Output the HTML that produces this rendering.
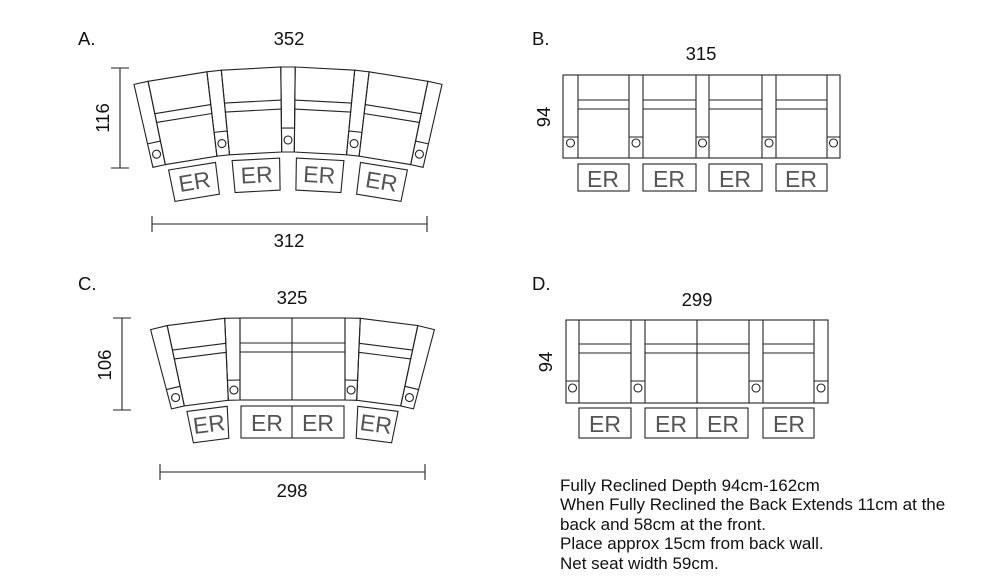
<!DOCTYPE html>
<html><head><meta charset="utf-8">
<style>
html,body{margin:0;padding:0;background:#fff;}
svg{display:block;}
text{font-family:"Liberation Sans",Arial,sans-serif;}
.t{font-size:17px;fill:#111;}
.er{font-size:23px;fill:#555;}
.lb{font-size:18.5px;fill:#111;}
</style></head><body>
<svg id="s" width="1000" height="582" viewBox="0 0 1000 582" xmlns="http://www.w3.org/2000/svg">
<g fill="none" stroke="#222" stroke-width="1.1" id="g">
<rect x="563" y="75" width="277" height="83"/>
<line x1="578" y1="75" x2="578" y2="158"/><line x1="629" y1="75" x2="629" y2="158"/>
<line x1="643" y1="75" x2="643" y2="158"/><line x1="696" y1="75" x2="696" y2="158"/>
<line x1="709" y1="75" x2="709" y2="158"/><line x1="762" y1="75" x2="762" y2="158"/>
<line x1="776" y1="75" x2="776" y2="158"/><line x1="827" y1="75" x2="827" y2="158"/>
<path d="M578 100H629M578 109H629M643 100H696M643 109H696M709 100H762M709 109H762M776 100H827M776 109H827"/>
<path d="M563 137H578M629 137H643M696 137H709M762 137H776M827 137H840"/>
<circle cx="570.5" cy="143" r="4"/><circle cx="636" cy="143" r="4"/><circle cx="702.5" cy="143" r="4"/><circle cx="769" cy="143" r="4"/><circle cx="833.5" cy="143" r="4"/>
<rect x="578" y="164" width="51" height="27"/><rect x="643" y="164" width="53" height="27"/><rect x="709" y="164" width="53" height="27"/><rect x="776" y="164" width="51" height="27"/>
<rect x="566" y="320" width="262" height="83"/>
<line x1="579" y1="320" x2="579" y2="403"/><line x1="631" y1="320" x2="631" y2="403"/>
<line x1="645" y1="320" x2="645" y2="403"/><line x1="697" y1="320" x2="697" y2="403"/>
<line x1="749" y1="320" x2="749" y2="403"/><line x1="763" y1="320" x2="763" y2="403"/>
<line x1="814" y1="320" x2="814" y2="403"/>
<path d="M579 344H631M579 353H631M645 344H749M645 353H749M763 344H814M763 353H814"/>
<path d="M566 381H579M631 381H645M749 381H763M814 381H828"/>
<circle cx="572.5" cy="388" r="4"/><circle cx="638" cy="388" r="4"/><circle cx="756" cy="388" r="4"/><circle cx="821" cy="388" r="4"/>
<rect x="579" y="408" width="52" height="30"/><rect x="645" y="408" width="103" height="30"/><line x1="697" y1="408" x2="697" y2="438"/><rect x="763" y="408" width="51" height="30"/>
<rect x="240" y="318" width="105" height="82"/>
<line x1="292" y1="318" x2="292" y2="400"/>
<path d="M240 343H345M240 352H345"/>
<rect x="241" y="406" width="103" height="32"/><line x1="292" y1="406" x2="292" y2="438"/>
<path d="M120 68V168M111 68H129M111 168H129"/>
<path d="M152 224H427M152 216V232M427 216V232"/>
<path d="M122 318V410M113 318H131M113 410H131"/>
<path d="M160 472H425M160 464V480M425 464V480"/>
</g>
<g id="txt">
<text class="lb" x="78" y="45">A.</text>
<text class="lb" x="289" y="45" text-anchor="middle">352</text>
<text class="lb" x="289" y="247" text-anchor="middle">312</text>
<text class="lb" transform="translate(109,118) rotate(-90)" text-anchor="middle">116</text>
<text class="lb" x="532" y="45">B.</text>
<text class="lb" x="701" y="60" text-anchor="middle">315</text>
<text class="lb" transform="translate(550,117) rotate(-90)" text-anchor="middle">94</text>
<text class="lb" x="78" y="290">C.</text>
<text class="lb" x="292" y="304" text-anchor="middle">325</text>
<text class="lb" x="292" y="497" text-anchor="middle">298</text>
<text class="lb" transform="translate(111,365) rotate(-90)" text-anchor="middle">106</text>
<text class="lb" x="532" y="290">D.</text>
<text class="lb" x="697" y="306" text-anchor="middle">299</text>
<text class="lb" transform="translate(552,362) rotate(-90)" text-anchor="middle">94</text>
<text class="er" x="603" y="187" text-anchor="middle">ER</text>
<text class="er" x="669" y="187" text-anchor="middle">ER</text>
<text class="er" x="735" y="187" text-anchor="middle">ER</text>
<text class="er" x="801" y="187" text-anchor="middle">ER</text>
<text class="er" x="605" y="432" text-anchor="middle">ER</text>
<text class="er" x="671" y="432" text-anchor="middle">ER</text>
<text class="er" x="723" y="432" text-anchor="middle">ER</text>
<text class="er" x="789" y="432" text-anchor="middle">ER</text>
<text class="er" x="267" y="431" text-anchor="middle">ER</text>
<text class="er" x="318" y="431" text-anchor="middle">ER</text>
<text class="t" x="560" y="491">Fully Reclined Depth 94cm-162cm</text>
<text class="t" x="560" y="510">When Fully Reclined the Back Extends 11cm at the</text>
<text class="t" x="560" y="530">back and 58cm at the front.</text>
<text class="t" x="560" y="549">Place approx 15cm from back wall.</text>
<text class="t" x="560" y="569">Net seat width 59cm.</text>
</g>
</svg>
<script>
(function(){
var NS="http://www.w3.org/2000/svg",g=document.getElementById('g'),tg=document.getElementById('txt');
function P(cx,cy,r,a){var t=a*Math.PI/180;return [cx+r*Math.sin(t),cy-r*Math.cos(t)];}
function el(n,at,p){var e=document.createElementNS(NS,n);for(var k in at)e.setAttribute(k,at[k]);(p||g).appendChild(e);return e;}
function wedge(cx,cy,a0,a1,r0,r1){var p=[P(cx,cy,r1,a0),P(cx,cy,r1,a1),P(cx,cy,r0,a1),P(cx,cy,r0,a0)];
 el('polygon',{points:p.map(function(q){return q[0].toFixed(1)+','+q[1].toFixed(1)}).join(' ')});}
function arcl(cx,cy,a0,a1,r){var p=P(cx,cy,r,a0),q=P(cx,cy,r,a1);el('line',{x1:p[0],y1:p[1],x2:q[0],y2:q[1]});}
function arm(cx,cy,a0,a1,r0,r1,rb){wedge(cx,cy,a0,a1,r0,r1);arcl(cx,cy,a0,a1,rb);var c=P(cx,cy,(r0+rb)/2,(a0+a1)/2);el('circle',{cx:c[0],cy:c[1],r:4});}
function seat(cx,cy,a0,a1,r0,r1,l1,l2){wedge(cx,cy,a0,a1,r0,r1);arcl(cx,cy,a0,a1,l1);arcl(cx,cy,a0,a1,l2);}
function er(cx,cy,a0,a1,r0,r1){wedge(cx,cy,a0,a1,r0,r1);var m=(a0+a1)/2,c=P(cx,cy,(r0+r1)/2,m);
 var t=el('text',{'class':'er','text-anchor':'middle',x:0,y:8,transform:'translate('+c[0].toFixed(1)+','+c[1].toFixed(1)+') rotate('+m+')'},tg);t.textContent='ER';}
var cx=288,cy=757,R=690,r0=605,A=1.2,S=4.95,a=-12.9;
for(var i=0;i<9;i++){
 if(i%2==0){arm(cx,cy,a,a+A,r0,R,629);a+=A;}
 else{seat(cx,cy,a,a+S,r0,R,657,648);er(cx,cy,a+0.2,a+S-0.2,567,599);a+=S;}
}
function side(cx,sg){var cy=668,R=350,r0=268;
 var segs=[[0,2.5,'a'],[2.5,12,'s'],[12,14.8,'a']];
 segs.forEach(function(s){var a0=sg*s[0],a1=sg*s[1];if(a0>a1){var t=a0;a0=a1;a1=t;}
  if(s[2]=='a')arm(cx,cy,a0,a1,r0,R,288);else{seat(cx,cy,a0,a1,r0,R,325,316);er(cx,cy,a0+0.3,a1-0.3,230,262);}});}
side(240,-1);side(345,1);
})();
</script>
</body></html>
